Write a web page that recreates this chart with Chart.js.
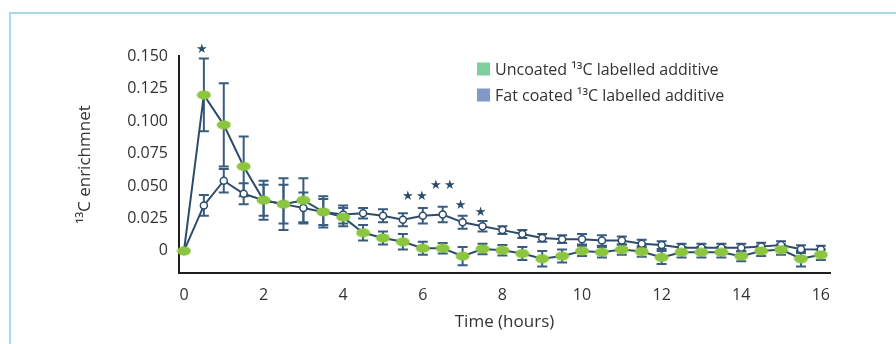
<!DOCTYPE html>
<html>
<head>
<meta charset="utf-8">
<script src="https://cdn.jsdelivr.net/npm/chart.js@4"></script>
<style>
  html, body { margin: 0; padding: 0; background: #fff; }
  #wrap { width: 896px; height: 344px; position: relative; }
</style>
</head>
<body>
<div id="wrap"><canvas id="chart"></canvas></div>
<script>
// time points (hours)
const times = [0, 0.5, 1, 1.5, 2, 2.5, 3, 3.5, 4, 4.5, 5, 5.5, 6, 6.5, 7, 7.5, 8,
  8.5, 9, 9.5, 10, 10.5, 11, 11.5, 12, 12.5, 13, 13.5, 14, 14.5, 15, 15.5, 16];

// uncoated 13C labelled additive (green)
const uncoated = [0, 0.120, 0.097, 0.065, 0.039, 0.036, 0.039, 0.030, 0.026, 0.014, 0.010,
  0.007, 0.002, 0.002, -0.004, 0.0015, 0.0005, -0.002, -0.006, -0.004, 0, -0.001, 0.001,
  -0.0005, -0.005, -0.001, -0.001, -0.001, -0.004, 0, 0.001, -0.006, -0.003];
const uncoatedErr = [0, 0.028, 0.032, 0.023, 0.015, 0.020, 0.017, 0.012, 0.007, 0.006, 0.005,
  0.006, 0.005, 0.004, 0.007, 0.004, 0.004, 0.005, 0.006, 0.005, 0.004, 0.004, 0.004,
  0.004, 0.005, 0.004, 0.004, 0.004, 0.004, 0.004, 0.004, 0.006, 0.004];

// fat coated 13C labelled additive (blue)
const coated = [0, 0.035, 0.054, 0.044, 0.039, 0.036, 0.033, 0.030, 0.028, 0.029, 0.027,
  0.024, 0.027, 0.028, 0.022, 0.019, 0.016, 0.013, 0.010, 0.009, 0.009, 0.008, 0.008,
  0.0055, 0.0045, 0.0025, 0.0025, 0.0025, 0.0025, 0.0033, 0.0045, 0.0013, 0.001];
const coatedErr = [0, 0.008, 0.009, 0.008, 0.012, 0.015, 0.012, 0.010, 0.007, 0.004, 0.005,
  0.005, 0.006, 0.006, 0.005, 0.004, 0.003, 0.003, 0.003, 0.003, 0.004, 0.004, 0.003,
  0.003, 0.003, 0.003, 0.003, 0.003, 0.003, 0.003, 0.003, 0.003, 0.003];

// significance stars: where they sit and how many
const sigTimes = [0.45, 5.8, 6.5, 6.95, 7.45];
const sigLevels = [0.1546, 0.0418, 0.0502, 0.0348, 0.0298];
const sigCounts = [1, 2, 2, 1, 1];

// tick labels
const xTicks = [0, 2, 4, 6, 8, 10, 12, 14, 16];
const yTicks = [0, 0.025, 0.050, 0.075, 0.100, 0.125, 0.150];

const seriesNames = ['Uncoated \u00b9\u00b3C labelled additive', 'Fat coated \u00b9\u00b3C labelled additive'];
const legendColors = ['#7fcf9c', '#8199c9'];

const NAVY = '#2d4b6b';
const BAR = '#3a5c80';
const LIME = '#8cc63f';
const FONT = '"Open Sans", sans-serif';

// green ellipse marker
const ellipse = document.createElement('canvas');
ellipse.width = 15; ellipse.height = 10;
(function() {
  const c = ellipse.getContext('2d');
  c.fillStyle = LIME;
  c.beginPath();
  c.ellipse(7.5, 5, 7, 4.5, 0, 0, Math.PI * 2);
  c.fill();
})();

// frame + error bars + stars + legend
const extras = {
  id: 'extras',
  beforeDraw(chart) {
    const ctx = chart.ctx;
    ctx.save();
    ctx.strokeStyle = '#acd6f0';
    ctx.lineWidth = 2;
    ctx.beginPath();
    ctx.moveTo(10, 344);
    ctx.lineTo(10, 13);
    ctx.lineTo(896, 13);
    ctx.stroke();
    ctx.restore();
  },
  beforeDatasetsDraw(chart) {
    const ctx = chart.ctx;
    const x = chart.scales.x, y = chart.scales.y;
    ctx.save();
    ctx.strokeStyle = BAR;
    ctx.lineWidth = 2;
    [[uncoated, uncoatedErr], [coated, coatedErr]].forEach(([vals, errs]) => {
      vals.forEach((v, i) => {
        if (!errs[i]) return;
        const px = x.getPixelForValue(times[i]);
        const top = y.getPixelForValue(v + errs[i]);
        const bot = y.getPixelForValue(v - errs[i]);
        ctx.beginPath();
        ctx.moveTo(px, top); ctx.lineTo(px, bot);
        ctx.moveTo(px - 5, top); ctx.lineTo(px + 5, top);
        ctx.moveTo(px - 5, bot); ctx.lineTo(px + 5, bot);
        ctx.stroke();
      });
    });
    ctx.restore();
  },
  afterDatasetsDraw(chart) {
    const ctx = chart.ctx;
    const x = chart.scales.x, y = chart.scales.y;
    ctx.save();
    ctx.fillStyle = NAVY;
    ctx.font = '13px "DejaVu Sans"';
    ctx.textAlign = 'center';
    ctx.textBaseline = 'middle';
    sigTimes.forEach((t, i) => {
      const px = x.getPixelForValue(t);
      const py = y.getPixelForValue(sigLevels[i]);
      const n = sigCounts[i];
      for (let k = 0; k < n; k++) {
        ctx.fillText('\u2605', px + (k - (n - 1) / 2) * 14, py);
      }
    });

    // legend
    ctx.font = '16px ' + FONT;
    ctx.textAlign = 'left';
    seriesNames.forEach((name, i) => {
      const ly = 69 + i * 26;
      ctx.fillStyle = legendColors[i];
      ctx.fillRect(477, ly - 6.5, 13, 13);
      ctx.fillStyle = '#333';
      ctx.fillText(name, 495, ly + 1);
    });
    ctx.restore();
  }
};

new Chart(document.getElementById('chart'), {
  type: 'line',
  data: {
    labels: times,
    datasets: [{
      label: seriesNames[0],
      data: times.map((t, i) => ({ x: t, y: uncoated[i] })),
      borderColor: NAVY,
      borderWidth: 2,
      pointStyle: ellipse,
      pointRadius: 5,
      clip: false
    }, {
      label: seriesNames[1],
      data: times.map((t, i) => ({ x: t, y: coated[i] })),
      borderColor: NAVY,
      borderWidth: 2,
      pointStyle: 'circle',
      pointRadius: 3.5,
      pointBackgroundColor: '#fff',
      pointBorderColor: NAVY,
      pointBorderWidth: 1.5,
      clip: false
    }]
  },
  options: {
    responsive: true,
    maintainAspectRatio: false,
    animation: false,
    layout: { padding: { left: 75, right: 66, top: 56, bottom: 0 } },
    scales: {
      x: {
        type: 'linear',
        min: -0.125,
        max: 16.23,
        grid: { display: false, drawTicks: false },
        border: { display: true, color: '#1e1e1e', width: 2 },
        afterBuildTicks: s => { s.ticks = xTicks.map(v => ({ value: v })); },
        afterFit: s => { s.height = 71; },
        ticks: { color: '#333', font: { family: FONT, size: 16 }, padding: 13 },
        title: {
          display: true, text: 'Time (hours)', color: '#333',
          font: { family: FONT, size: 17 }, padding: { top: 0, bottom: 12 }
        }
      },
      y: {
        min: -0.017,
        max: 0.15,
        grid: { display: false, drawTicks: false },
        border: { display: true, color: '#1e1e1e', width: 2 },
        afterBuildTicks: s => { s.ticks = yTicks.map(v => ({ value: v })); },
        afterFit: s => { s.width = 104; },
        ticks: {
          color: '#333', font: { family: FONT, size: 16 }, padding: 11,
          callback: v => v === 0 ? '0' : v.toFixed(3)
        },
        title: {
          display: true, text: '\u00b9\u00b3C enrichmnet', color: '#333',
          font: { family: FONT, size: 17 }, padding: { top: 0, bottom: 0 }
        }
      }
    },
    plugins: {
      legend: { display: false },
      tooltip: { enabled: false }
    }
  },
  plugins: [extras]
});
</script>
</body>
</html>
